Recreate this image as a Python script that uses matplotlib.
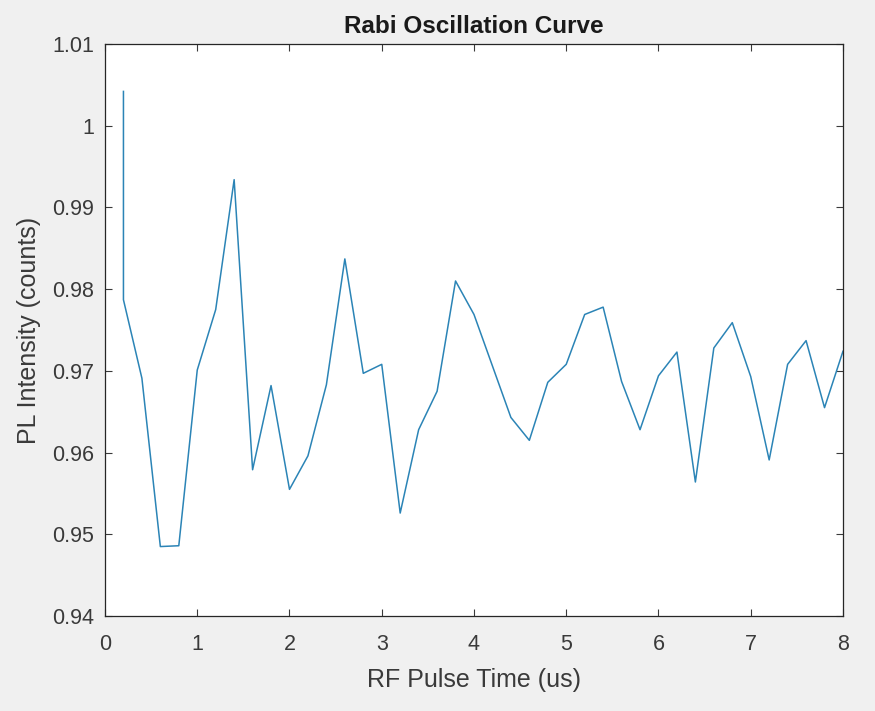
import matplotlib.pyplot as plt
from matplotlib.ticker import FormatStrFormatter

# RF pulse time (us) and PL intensity
pulse_time = [0.2, 0.2, 0.4, 0.6, 0.8, 1.0, 1.2, 1.4, 1.6, 1.8, 2.0,
              2.2, 2.4, 2.6, 2.8, 3.0, 3.2, 3.4, 3.6, 3.8, 4.0,
              4.2, 4.4, 4.6, 4.8, 5.0, 5.2, 5.4, 5.6, 5.8, 6.0,
              6.2, 6.4, 6.6, 6.8, 7.0, 7.2, 7.4, 7.6, 7.8, 8.0]
pl_intensity = [1.0042, 0.9787, 0.9691, 0.9485, 0.9486, 0.9701, 0.9775, 0.9934, 0.9579, 0.9682, 0.9555,
                0.9596, 0.9683, 0.9837, 0.9697, 0.9708, 0.9526, 0.9628, 0.9675, 0.9810, 0.9769,
                0.9706, 0.9643, 0.9615, 0.9686, 0.9708, 0.9769, 0.9778, 0.9687, 0.9628, 0.9694,
                0.9723, 0.9564, 0.9728, 0.9759, 0.9693, 0.9591, 0.9708, 0.9737, 0.9655, 0.9724]

x_ticks = [0, 1, 2, 3, 4, 5, 6, 7, 8]
y_ticks = [0.94, 0.95, 0.96, 0.97, 0.98, 0.99, 1.00, 1.01]

plt.rcParams['font.family'] = ['Liberation Sans', 'DejaVu Sans']

fig = plt.figure(figsize=(8.75, 7.11), dpi=100, facecolor='#f0f0f0')
ax = fig.add_axes([0.12, 0.1336, 0.8434, 0.8045])
ax.set_facecolor('white')

ax.plot(pulse_time, pl_intensity, color='#2b84b6', linewidth=1.1)

ax.set_xlim(0, 8)
ax.set_ylim(0.94, 1.01)
ax.set_xticks(x_ticks)
ax.set_yticks(y_ticks)
ax.yaxis.set_major_formatter(FormatStrFormatter('%g'))
ax.tick_params(direction='in', top=True, right=True, length=5, width=0.8,
               colors='#3a3a3a', labelsize=15.5)
ax.tick_params(axis='x', pad=13)
ax.tick_params(axis='y', pad=8)
for s in ax.spines.values():
    s.set_color('#262626')
    s.set_linewidth(0.9)

ax.set_title('Rabi Oscillation Curve', fontsize=17.5, fontweight='bold', color='#1a1a1a', pad=8)
ax.set_xlabel('RF Pulse Time (us)', fontsize=18, color='#3a3a3a', labelpad=9)
ax.set_ylabel('PL Intensity (counts)', fontsize=18, color='#3a3a3a', labelpad=8)

fig.savefig('out.png', dpi=100, facecolor=fig.get_facecolor())
